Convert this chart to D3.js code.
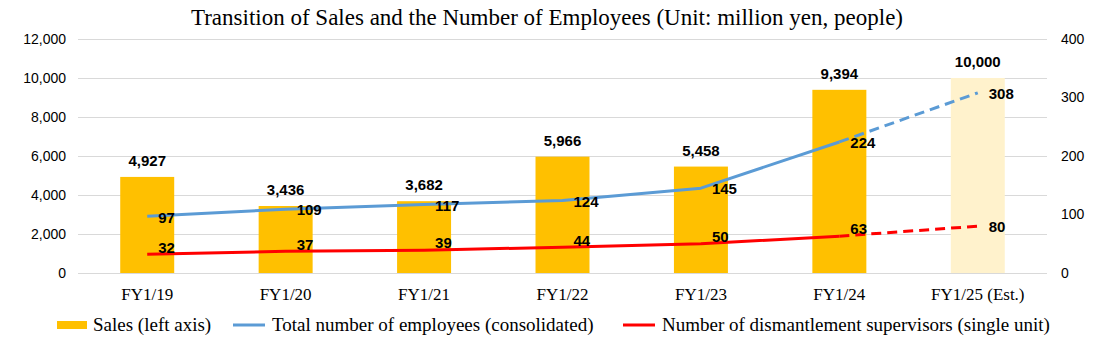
<!DOCTYPE html>
<html>
<head>
<meta charset="utf-8">
<script src="https://cdn.jsdelivr.net/npm/d3@7"></script>
<style>
  html, body { margin: 0; padding: 0; background: #fff; }
  svg { display: block; }
</style>
</head>
<body>
<div id="chart"></div>
<script>
// Sales (million yen) and headcount
const categories = ["FY1/19", "FY1/20", "FY1/21", "FY1/22", "FY1/23", "FY1/24", "FY1/25 (Est.)"];
const sales = [4927, 3436, 3682, 5966, 5458, 9394, 10000];
const employees = [97, 109, 117, 124, 145, 224, 308];
const supervisors = [32, 37, 39, 44, 50, 63, 80];
const leftTicks = [0, 2000, 4000, 6000, 8000, 10000, 12000];
const rightTicks = [0, 100, 200, 300, 400];
const estIndex = 6; // last category is an estimate

const W = 1093, H = 352;
const C = { bar: "#FFC000", barEst: "#FFF2CC", blue: "#5B9BD5", red: "#FF0000", grid: "#D9D9D9", ink: "#000" };
const sans = "'Liberation Sans', Arial, sans-serif";
const serif = "'Liberation Serif', 'Times New Roman', serif";

const svg = d3.select("#chart").append("svg").attr("width", W).attr("height", H);

const x = d3.scaleBand().domain(categories).range([78, 1047]).paddingInner(0).paddingOuter(0);
const yL = d3.scaleLinear().domain([0, 12000]).range([273, 39]);
const yR = d3.scaleLinear().domain([0, 400]).range([273, 39]);
const cx = d => x(d) + x.bandwidth() / 2;
const barW = x.bandwidth() * 0.39;

// title
svg.append("text").attr("x", 547).attr("y", 25).attr("text-anchor", "middle")
  .attr("font-family", serif).attr("font-size", 23).attr("fill", C.ink)
  .text("Transition of Sales and the Number of Employees (Unit: million yen, people)");

// gridlines
svg.append("g").selectAll("line").data(leftTicks).join("line")
  .attr("x1", 78).attr("x2", 1047).attr("y1", d => yL(d) + 0.5).attr("y2", d => yL(d) + 0.5)
  .attr("stroke", C.grid).attr("stroke-width", 1);

// axes (text only)
const gl = svg.append("g").attr("transform", "translate(66,0)")
  .call(d3.axisLeft(yL).tickValues(leftTicks).tickSize(0).tickPadding(0).tickFormat(d3.format(",")));
const gr = svg.append("g").attr("transform", "translate(1061,0)")
  .call(d3.axisRight(yR).tickValues(rightTicks).tickSize(0).tickPadding(0));
const gx = svg.append("g").attr("transform", "translate(0,288)")
  .call(d3.axisBottom(x).tickSize(0).tickPadding(0));
[gl, gr, gx].forEach(g => g.select(".domain").remove());
gl.selectAll("text").attr("font-family", sans).attr("font-size", 14).attr("fill", C.ink);
gr.selectAll("text").attr("font-family", sans).attr("font-size", 14).attr("fill", C.ink);
gx.selectAll("text").attr("font-family", serif).attr("font-size", 17).attr("fill", C.ink).attr("dy", "0.71em");

// bars
const rows = categories.map((c, i) => ({ c, i, s: sales[i], e: employees[i], p: supervisors[i] }));
svg.append("g").selectAll("rect").data(rows).join("rect")
  .attr("x", d => cx(d.c) - barW / 2).attr("width", barW)
  .attr("y", d => yL(d.s)).attr("height", d => yL(0) - yL(d.s))
  .attr("fill", d => d.i === estIndex ? C.barEst : C.bar);

svg.append("g").selectAll("text").data(rows).join("text")
  .attr("x", d => cx(d.c)).attr("y", d => yL(d.s) - 11).attr("text-anchor", "middle")
  .attr("font-family", sans).attr("font-size", 15).attr("font-weight", "bold").attr("fill", C.ink)
  .text(d => d3.format(",")(d.s));

// lines: solid through actuals, dashed into the estimate
function drawLine(key, color) {
  const line = d3.line().x(d => cx(d.c)).y(d => yR(d[key]));
  svg.append("path").datum(rows.slice(0, estIndex)).attr("d", line)
    .attr("fill", "none").attr("stroke", color).attr("stroke-width", 3).attr("stroke-linejoin", "round");
  svg.append("path").datum(rows.slice(estIndex - 1)).attr("d", line)
    .attr("fill", "none").attr("stroke", color).attr("stroke-width", 3).attr("stroke-dasharray", "10 6");
}
drawLine("e", C.blue);
drawLine("p", C.red);

svg.append("g").selectAll("text").data(rows).join("text")
  .attr("x", d => cx(d.c) + 11).attr("y", d => yR(d.e) + 1).attr("dy", "0.35em")
  .attr("font-family", sans).attr("font-size", 15).attr("font-weight", "bold").attr("fill", C.ink)
  .text(d => d.e);
svg.append("g").selectAll("text").data(rows).join("text")
  .attr("x", d => cx(d.c) + 11)
  .attr("y", d => d.i === estIndex ? yR(d.p) + 1 : yR(d.p) - 7).attr("dy", "0.35em")
  .attr("font-family", sans).attr("font-size", 15).attr("font-weight", "bold").attr("fill", C.ink)
  .text(d => d.p);

// legend
const legend = [
  { label: "Sales (left axis)", color: C.bar, type: "rect", x: 57 },
  { label: "Total number of employees (consolidated)", color: C.blue, type: "line", x: 233 },
  { label: "Number of dismantlement supervisors (single unit)", color: C.red, type: "line", x: 623 },
];
const lg = svg.append("g").selectAll("g").data(legend).join("g").attr("transform", d => `translate(${d.x},325)`);
lg.filter(d => d.type === "rect").append("rect").attr("x", 0).attr("y", -4).attr("width", 30).attr("height", 8).attr("fill", d => d.color);
lg.filter(d => d.type === "line").append("line").attr("x1", 0).attr("x2", 32).attr("y1", 0).attr("y2", 0)
  .attr("stroke", d => d.color).attr("stroke-width", 3);
lg.append("text").attr("x", d => d.type === "rect" ? 36 : 39).attr("y", 6)
  .attr("font-family", serif).attr("font-size", 19).attr("fill", C.ink).text(d => d.label);
</script>
</body>
</html>
